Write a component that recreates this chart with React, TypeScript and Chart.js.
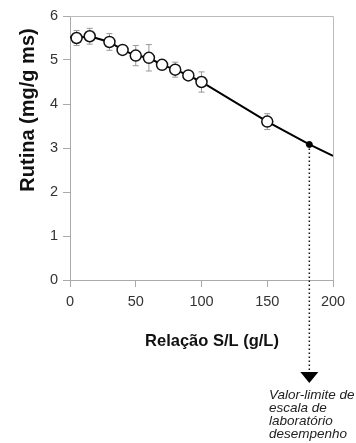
import React, { useEffect, useRef } from "react";
import { Chart, registerables } from "chart.js";

Chart.register(...registerables);

const xValues = [5, 15, 30, 40, 50, 60, 70, 80, 90, 100, 150];
const rutina = [5.5, 5.54, 5.41, 5.23, 5.1, 5.05, 4.89, 4.78, 4.65, 4.5, 3.6];
const errors = [0.17, 0.18, 0.19, 0.08, 0.23, 0.3, 0.08, 0.17, 0.08, 0.23, 0.18];
const lineX = [0, 5, 15, 30, 40, 50, 60, 70, 80, 90, 100, 150, 182, 200];
const lineY = [5.52, 5.5, 5.54, 5.41, 5.23, 5.1, 5.05, 4.89, 4.78, 4.65, 4.5, 3.6, 3.08, 2.82];
const limitX = 182;
const limitY = 3.08;
const xTitle = "Relação S/L (g/L)";
const yTitle = "Rutina (mg/g ms)";
const noteLines = ["Valor-limite de", "escala de", "laboratório", "desempenho"];

const FONT = "'Liberation Sans', Arial, sans-serif";

const annotPlugin = {
  id: "annot",
  beforeDatasetDraw(chart: any, args: any) {
    if (args.index !== 0) return;
    const ctx = chart.ctx;
    const xs = chart.scales.x;
    const ys = chart.scales.y;
    ctx.save();
    ctx.strokeStyle = "#999";
    ctx.lineWidth = 1;
    xValues.forEach((xv, i) => {
      const px = xs.getPixelForValue(xv);
      const top = ys.getPixelForValue(rutina[i] + errors[i]);
      const bot = ys.getPixelForValue(rutina[i] - errors[i]);
      ctx.beginPath();
      ctx.moveTo(px, top);
      ctx.lineTo(px, bot);
      ctx.moveTo(px - 3, top);
      ctx.lineTo(px + 3, top);
      ctx.moveTo(px - 3, bot);
      ctx.lineTo(px + 3, bot);
      ctx.stroke();
    });
    ctx.restore();
  },
  afterDraw(chart: any) {
    const ctx = chart.ctx;
    const xs = chart.scales.x;
    const ys = chart.scales.y;
    const area = chart.chartArea;
    ctx.save();
    // top and right border
    ctx.strokeStyle = "#bbb";
    ctx.lineWidth = 1;
    ctx.beginPath();
    ctx.moveTo(area.left, Math.round(area.top) + 0.5);
    ctx.lineTo(Math.round(area.right) + 0.5, Math.round(area.top) + 0.5);
    ctx.lineTo(Math.round(area.right) + 0.5, area.bottom);
    ctx.stroke();

    // titles
    ctx.fillStyle = "#111";
    ctx.font = `bold 16.5px ${FONT}`;
    ctx.textAlign = "center";
    ctx.textBaseline = "alphabetic";
    ctx.fillText(xTitle, 212, 346);

    ctx.save();
    ctx.translate(34, 110);
    ctx.rotate(-Math.PI / 2);
    ctx.font = `bold 20px ${FONT}`;
    ctx.fillText(yTitle, 0, 0);
    ctx.restore();

    // dotted line from limit point to arrow
    const px = xs.getPixelForValue(limitX);
    const py = ys.getPixelForValue(limitY);
    ctx.strokeStyle = "#111";
    ctx.lineWidth = 1.5;
    ctx.setLineDash([1.5, 2.5]);
    ctx.beginPath();
    ctx.moveTo(px, py + 4);
    ctx.lineTo(px, 372);
    ctx.stroke();
    ctx.setLineDash([]);

    // arrow head
    ctx.fillStyle = "#000";
    ctx.beginPath();
    ctx.moveTo(px - 9, 372);
    ctx.lineTo(px + 9, 372);
    ctx.lineTo(px, 383);
    ctx.closePath();
    ctx.fill();

    // note text
    ctx.fillStyle = "#222";
    ctx.font = `italic 13.5px ${FONT}`;
    ctx.textAlign = "left";
    noteLines.forEach((t, i) => {
      ctx.fillText(t, 269, 399 + i * 13);
    });
    ctx.restore();
  },
};

export default function App() {
  const ref = useRef<HTMLCanvasElement | null>(null);
  useEffect(() => {
    document.body.style.margin = "0";
    const canvas = ref.current;
    if (!canvas) return;
    const chart = new Chart(canvas, {
      type: "scatter",
      data: {
        datasets: [
          {
            data: xValues.map((x, i) => ({ x, y: rutina[i] })),
            pointRadius: 5.5,
            pointBackgroundColor: "#fff",
            pointBorderColor: "#111",
            pointBorderWidth: 1.5,
            showLine: false,
          },
          {
            data: [{ x: limitX, y: limitY }],
            pointRadius: 3,
            pointBackgroundColor: "#000",
            pointBorderColor: "#000",
            showLine: false,
          },
          {
            data: lineX.map((x, i) => ({ x, y: lineY[i] })),
            showLine: true,
            borderColor: "#000",
            borderWidth: 2,
            pointRadius: 0,
            tension: 0,
          },
        ],
      },
      options: {
        responsive: false,
        animation: false,
        devicePixelRatio: 1,
        layout: { padding: { left: 0, top: 16, right: 23, bottom: 0 } },
        plugins: {
          legend: { display: false },
          tooltip: { enabled: false },
        },
        scales: {
          x: {
            type: "linear",
            min: 0,
            max: 200,
            ticks: {
              stepSize: 50,
              color: "#333",
              font: { family: FONT, size: 14.5 },
              padding: 6,
              maxRotation: 0,
            },
            grid: { drawOnChartArea: false, drawTicks: true, tickLength: 7, color: "#aaa" },
            border: { color: "#aaa", width: 1 },
            afterFit: (s: any) => {
              s.height = 163;
            },
          },
          y: {
            type: "linear",
            min: 0,
            max: 6,
            ticks: {
              stepSize: 1,
              color: "#333",
              font: { family: FONT, size: 14.5 },
              padding: 5,
            },
            grid: { drawOnChartArea: false, drawTicks: true, tickLength: 7, color: "#aaa" },
            border: { color: "#aaa", width: 1 },
            afterFit: (s: any) => {
              s.width = 70;
            },
          },
        },
      },
      plugins: [annotPlugin],
    } as any);
    return () => chart.destroy();
  }, []);
  return <canvas ref={ref} width={356} height={443} style={{ display: "block" }} />;
}
